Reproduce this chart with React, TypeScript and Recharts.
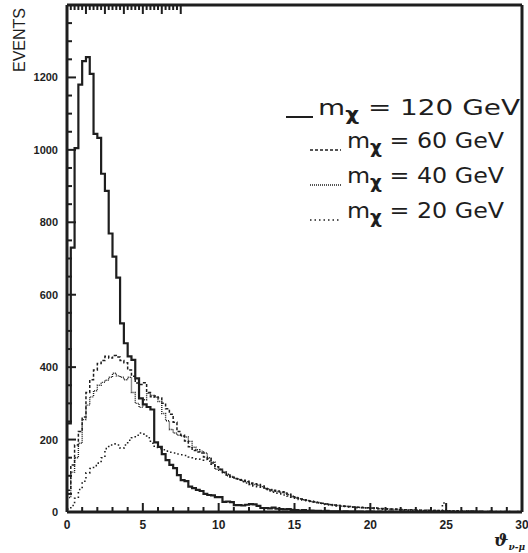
import React from "react";
import { ComposedChart, Line, XAxis, YAxis } from "recharts";

// histogram bin width (units of the x axis), 120 bins from 0 to 30
const BIN = 0.25;

// m_chi = 120 GeV
const s120 = [
  245, 730, 1005, 1180, 1245, 1256, 1210, 1044, 1033, 934,
  887, 769, 705, 647, 521, 466, 430, 420, 369, 314,
  297, 290, 283, 192, 180, 160, 143, 130, 121, 102,
  88, 85, 70, 66, 61, 58, 50, 47, 46, 41,
  41, 28, 29, 27, 19, 19, 18, 20, 22, 21,
  17, 11, 11, 10, 12, 9, 8, 7, 8, 6,
  5, 4, 5, 3, 4, 3, 3, 2, 3, 2,
  2, 2, 1, 2, 1, 1, 1, 1, 0, 1,
  1, 0, 1, 0, 0, 1, 0, 0, 1, 0,
  0, 0, 1, 0, 0, 0, 0, 1, 0, 0,
  0, 0, 0, 0, 0, 0, 1, 0, 0, 0,
  0, 0, 0, 0, 0, 0, 0, 0, 0, 0,
];

// m_chi = 60 GeV
const s60 = [
  60, 130, 185, 222, 262, 330, 365, 392, 410, 418,
  430, 425, 432, 428, 418, 412, 392, 375, 356, 352,
  357, 330, 318, 320, 315, 300, 285, 270, 248, 222,
  212, 196, 180, 170, 166, 163, 152, 148, 135, 125,
  118, 110, 102, 96, 92, 89, 88, 85, 80, 78,
  76, 72, 64, 61, 60, 58, 56, 55, 50, 42,
  39, 36, 33, 31, 30, 28, 26, 24, 22, 20,
  19, 18, 17, 16, 15, 14, 13, 13, 12, 12,
  11, 11, 10, 10, 9, 8, 8, 7, 7, 6,
  6, 6, 5, 5, 4, 5, 4, 3, 4, 3,
  3, 3, 2, 3, 2, 2, 2, 1, 2, 2,
  1, 2, 1, 1, 1, 1, 0, 1, 1, 0,
];

// m_chi = 40 GeV
const s40 = [
  40, 110, 150, 190, 255, 295, 318, 335, 350, 358,
  364, 372, 383, 376, 372, 365, 372, 330, 300, 289,
  310, 328, 322, 317, 305, 272, 252, 228, 218, 212,
  210, 207, 195, 179, 172, 168, 163, 150, 138, 118,
  115, 108, 100, 98, 93, 90, 86, 84, 78, 76,
  74, 70, 66, 62, 58, 57, 54, 52, 48, 44,
  40, 37, 34, 32, 29, 27, 25, 23, 22, 21,
  19, 18, 16, 16, 15, 14, 13, 12, 12, 11,
  10, 11, 9, 9, 8, 8, 7, 7, 6, 6,
  5, 6, 5, 4, 5, 4, 3, 4, 3, 3,
  3, 2, 3, 2, 2, 2, 1, 2, 1, 1,
  1, 1, 1, 1, 0, 1, 1, 0, 1, 0,
];

// m_chi = 20 GeV
const s20 = [
  8, 18, 38, 62, 85, 108, 120, 128, 135, 150,
  175, 185, 188, 185, 176, 185, 198, 205, 212, 218,
  215, 205, 190, 178, 175, 172, 168, 165, 163, 160,
  158, 156, 152, 150, 146, 143, 145, 140, 132, 125,
  118, 110, 104, 96, 92, 88, 84, 80, 76, 72,
  70, 66, 62, 58, 55, 52, 50, 47, 44, 41,
  38, 35, 33, 30, 28, 26, 24, 22, 21, 19,
  18, 17, 16, 15, 14, 13, 12, 12, 11, 10,
  10, 9, 9, 8, 8, 7, 7, 6, 6, 5,
  5, 5, 4, 4, 4, 3, 4, 3, 3, 25,
  3, 2, 2, 3, 2, 2, 1, 2, 2, 1,
  1, 1, 2, 1, 1, 1, 1, 0, 1, 1,
];

const xLabels = [0, 5, 10, 15, 20, 25, 30];
const yLabels = [0, 200, 400, 600, 800, 1000, 1200];
const xTicks = Array.from({ length: 31 }, (_, i) => i);
const yTicks = Array.from({ length: 29 }, (_, i) => i * 50);

const legendItems = [
  { label: "120 GeV", dash: undefined as string | undefined },
  { label: "60 GeV", dash: "3 2" },
  { label: "40 GeV", dash: "1 1" },
  { label: "20 GeV", dash: "1.5 3" },
];

const data = s120.map((v, i) => ({
  x: i * BIN,
  s120: v,
  s60: s60[i],
  s40: s40[i],
  s20: s20[i],
}));
data.push({ x: 30, s120: s120[119], s60: s60[119], s40: s40[119], s20: s20[119] });

const INK = "#1e1e1e";
const NUM_FONT = "'Liberation Sans', Arial, sans-serif";
const LEG_FONT = "'DejaVu Sans', sans-serif";

const BottomTick = (props: any) => {
  const { x, y, payload } = props;
  const major = xLabels.includes(payload.value);
  return (
    <g>
      <line x1={x} x2={x} y1={y} y2={y - (major ? 9 : 5)} stroke={INK} strokeWidth={2} />
      {major && (
        <text x={x} y={y + 17} textAnchor="middle" fontSize={12} fontWeight={700} fontFamily={NUM_FONT} fill={INK}>
          {payload.value}
        </text>
      )}
    </g>
  );
};

const TopTick = (props: any) => {
  const { x, y, payload } = props;
  const major = xLabels.includes(payload.value);
  return <line x1={x} x2={x} y1={y} y2={y + (major ? 9 : 5)} stroke={INK} strokeWidth={2} />;
};

const LeftTick = (props: any) => {
  const { x, y, payload } = props;
  const major = yLabels.includes(payload.value);
  return (
    <g>
      <line x1={x} x2={x + (major ? 9 : 5)} y1={y} y2={y} stroke={INK} strokeWidth={2} />
      {major && (
        <text x={x - 9} y={y + 4} textAnchor="end" fontSize={11} fontWeight={700} fontFamily={NUM_FONT} fill={INK}>
          {payload.value}
        </text>
      )}
    </g>
  );
};

const RightTick = (props: any) => {
  const { x, y, payload } = props;
  const major = yLabels.includes(payload.value);
  return <line x1={x} x2={x - (major ? 9 : 5)} y1={y} y2={y} stroke={INK} strokeWidth={2} />;
};

export default function App() {
  const axisLine = { stroke: INK, strokeWidth: 3 };
  return (
    <div style={{ position: "relative", width: 528, height: 553 }}>
      <style>{`body{margin:0}`}</style>

      {/* annotations sit underneath the (transparent) chart surface */}
      <svg width={528} height={553} style={{ position: "absolute", left: 0, top: 0 }}>
        <text
          x={25}
          y={40}
          transform="rotate(-90, 25, 40)"
          textAnchor="middle"
          fontSize={16}
          fontFamily={NUM_FONT}
          fill={INK}
        >
          EVENTS
        </text>

        {legendItems.map((item, i) => {
          const first = i === 0;
          const base = first ? 115 : 148 + (i - 1) * 35;
          const lx1 = first ? 286 : 310;
          const lx2 = first ? 313 : 341;
          const tx = first ? 318 : 347;
          return (
            <g key={item.label}>
              <line x1={lx1} x2={lx2} y1={base + 2} y2={base + 2} stroke={INK} strokeWidth={first ? 2 : 1.5} strokeDasharray={item.dash} />
              <text
                x={tx}
                y={base}
                fontSize={22}
                fontFamily={LEG_FONT}
                fill={INK}
                textLength={first ? 202 : 157}
                lengthAdjust="spacingAndGlyphs"
              >
                <tspan>m</tspan>
                <tspan dy={5} fontSize={17} fontWeight={700}>χ</tspan>
                <tspan dy={-5}>{` = ${item.label}`}</tspan>
              </text>
            </g>
          );
        })}

        <text x={494} y={546} fontSize={17} fontStyle="italic" fontWeight={700} fontFamily="'DejaVu Serif', serif" fill={INK}>
          ϑ
          <tspan dy={4} fontSize={9}>ν-μ</tspan>
        </text>
      </svg>

      <div style={{ position: "relative" }}>
        <ComposedChart width={528} height={553} data={data} margin={{ top: 0, right: 0, bottom: 0, left: 0 }}>
          <XAxis
            dataKey="x"
            type="number"
            domain={[0, 30]}
            ticks={xTicks}
            interval={0}
            height={41}
            tickSize={0}
            tickMargin={0}
            tickLine={false}
            axisLine={axisLine}
            tick={<BottomTick />}
          />
          <XAxis
            xAxisId="top"
            orientation="top"
            type="number"
            domain={[0, 30]}
            ticks={xTicks}
            interval={0}
            height={5}
            tickSize={0}
            tickMargin={0}
            tickLine={false}
            axisLine={axisLine}
            tick={<TopTick />}
          />
          <YAxis
            type="number"
            domain={[0, 1400]}
            ticks={yTicks}
            interval={0}
            width={67}
            tickSize={0}
            tickMargin={0}
            tickLine={false}
            axisLine={axisLine}
            tick={<LeftTick />}
            allowDataOverflow
          />
          <YAxis
            yAxisId="right"
            orientation="right"
            type="number"
            domain={[0, 1400]}
            ticks={yTicks}
            interval={0}
            width={6}
            tickSize={0}
            tickMargin={0}
            tickLine={false}
            axisLine={axisLine}
            tick={<RightTick />}
          />
          <Line type="stepAfter" dataKey="s20" stroke={INK} strokeWidth={1.6} strokeDasharray="1.5 3" dot={false} isAnimationActive={false} />
          <Line type="stepAfter" dataKey="s40" stroke={INK} strokeWidth={1.4} strokeDasharray="1 1" dot={false} isAnimationActive={false} />
          <Line type="stepAfter" dataKey="s60" stroke={INK} strokeWidth={1.5} strokeDasharray="3 2" dot={false} isAnimationActive={false} />
          <Line type="stepAfter" dataKey="s120" stroke={INK} strokeWidth={2.2} dot={false} isAnimationActive={false} />
        </ComposedChart>
      </div>
    </div>
  );
}
